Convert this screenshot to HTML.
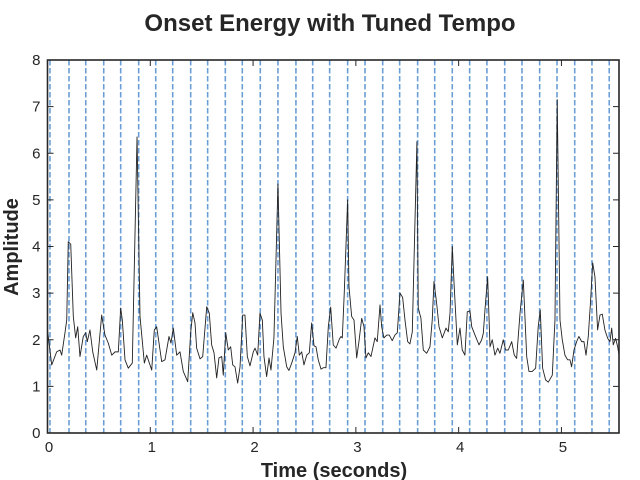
<!DOCTYPE html>
<html><head><meta charset="utf-8"><style>
body{margin:0;background:#fff;}
svg{display:block;font-family:"Liberation Sans",Arial,sans-serif;}
</style></head><body>
<svg id="chart" width="640" height="480">
<text x="330" y="31" text-anchor="middle" font-size="24" font-weight="bold" fill="#262626">Onset Energy with Tuned Tempo</text>
<text x="334" y="477" text-anchor="middle" font-size="20" font-weight="bold" fill="#262626">Time (seconds)</text>
<text transform="translate(18,247) rotate(-90)" text-anchor="middle" font-size="20" font-weight="bold" fill="#262626">Amplitude</text>
<g id="beats"></g>
<g id="series"></g>
<g id="axes"></g>
</svg>
<script>
const xTicks=[0,1,2,3,4,5];
const yTicks=[0,1,2,3,4,5,6,7,8];
const beatTimes=[0.024,0.209,0.372,0.547,0.712,0.887,1.053,1.218,1.393,1.558,1.730,1.895,2.070,2.242,2.417,2.580,2.745,2.920,3.089,3.261,3.426,3.601,3.767,3.938,4.107,4.275,4.448,4.616,4.788,4.957,5.129,5.297,5.465];
const times=[0.002,0.041,0.089,0.122,0.138,0.170,0.187,0.202,0.226,0.251,0.274,0.294,0.316,0.348,0.372,0.387,0.413,0.440,0.479,0.527,0.559,0.591,0.625,0.657,0.689,0.712,0.728,0.754,0.786,0.825,0.871,0.900,0.942,0.965,1.014,1.039,1.062,1.111,1.143,1.182,1.201,1.224,1.257,1.289,1.321,1.364,1.393,1.413,1.435,1.451,1.484,1.510,1.549,1.574,1.597,1.620,1.646,1.668,1.695,1.710,1.734,1.759,1.782,1.802,1.824,1.850,1.873,1.899,1.921,1.944,1.970,2.002,2.019,2.045,2.067,2.090,2.106,2.132,2.155,2.174,2.203,2.242,2.272,2.294,2.327,2.349,2.376,2.408,2.430,2.450,2.473,2.495,2.522,2.547,2.570,2.593,2.612,2.634,2.661,2.683,2.709,2.732,2.755,2.780,2.807,2.839,2.855,2.868,2.887,2.920,2.933,2.959,2.982,3.008,3.030,3.057,3.079,3.098,3.121,3.147,3.186,3.208,3.235,3.251,3.273,3.300,3.325,3.354,3.380,3.403,3.429,3.455,3.478,3.504,3.526,3.549,3.594,3.607,3.633,3.656,3.689,3.721,3.743,3.760,3.786,3.809,3.841,3.877,3.899,3.916,3.938,3.957,3.987,4.013,4.035,4.061,4.084,4.110,4.127,4.159,4.198,4.224,4.240,4.256,4.282,4.305,4.327,4.353,4.380,4.402,4.434,4.457,4.483,4.516,4.541,4.564,4.597,4.629,4.662,4.684,4.716,4.749,4.774,4.794,4.817,4.846,4.872,4.911,4.937,4.959,4.986,5.008,5.034,5.060,5.083,5.099,5.122,5.148,5.170,5.197,5.219,5.239,5.261,5.284,5.304,5.326,5.352,5.375,5.397,5.423,5.450,5.472,5.489,5.504,5.527,5.547,5.560];
const amplitudes=[2.17,1.46,1.74,1.78,1.67,2.15,2.42,4.10,4.05,2.50,2.04,2.28,1.64,2.07,2.15,1.96,2.21,1.74,1.35,2.53,2.10,1.93,1.67,1.74,1.74,2.68,2.42,1.57,1.39,1.50,6.35,2.50,1.50,1.67,1.35,2.21,2.28,1.53,1.57,2.07,1.93,2.25,1.67,1.74,1.32,1.10,2.15,2.58,2.36,1.82,1.59,1.64,2.71,2.57,1.89,1.72,1.18,1.61,1.64,1.24,2.15,1.78,1.85,1.46,1.42,1.07,1.42,2.53,2.53,1.64,1.44,1.74,1.82,1.67,2.57,2.42,1.64,1.21,1.61,1.35,2.04,5.34,2.57,1.85,1.42,1.34,1.50,1.72,2.07,1.67,1.74,1.46,1.67,1.72,2.36,1.87,1.85,1.57,1.37,1.40,1.40,2.28,2.70,1.89,1.82,2.01,2.07,2.04,3.00,5.00,3.14,2.50,2.42,1.61,1.96,2.46,2.28,1.61,1.72,1.64,2.04,1.96,2.75,2.28,2.04,2.10,2.10,1.98,2.10,2.15,3.00,2.91,2.42,1.96,1.91,2.17,6.25,2.68,2.46,1.78,1.71,1.85,2.42,3.25,2.78,2.28,2.04,2.25,2.17,2.57,4.00,3.14,1.89,2.25,1.78,1.67,2.60,2.62,2.28,2.10,1.89,2.00,2.14,2.64,3.35,1.85,2.00,1.67,1.82,1.71,2.00,1.78,1.78,1.96,1.67,1.60,2.57,3.28,1.64,1.32,1.32,1.39,2.28,2.64,1.39,1.14,1.09,1.24,2.42,7.15,2.42,2.00,1.67,1.57,1.57,1.42,1.78,1.96,2.07,1.96,1.96,1.67,2.07,2.85,3.65,3.35,2.21,2.53,2.55,2.21,2.03,1.96,2.25,1.89,2.03,1.85,1.67];

const X0=47.5,X1=619,Y0=433,Y1=60,TMAX=5.56,AMAX=8;
const xs=t=>X0+(t/TMAX)*(X1-X0);
const ys=a=>Y0-(a/AMAX)*(Y0-Y1);
const NS='http://www.w3.org/2000/svg';
function mk(tag,attrs,parent){const e=document.createElementNS(NS,tag);for(const k in attrs)e.setAttribute(k,attrs[k]);parent.appendChild(e);return e;}

const gb=document.getElementById('beats');
beatTimes.forEach(t=>{
  const l=mk('line',{x1:xs(t),x2:xs(t),y1:Y1,y2:Y0,stroke:'#6b9ed6','stroke-width':1.6,'stroke-dasharray':'5.5,2.5'},gb);
  
  
});

const gs=document.getElementById('series');
const pts=times.map((t,i)=>xs(t).toFixed(2)+','+ys(amplitudes[i]).toFixed(2)).join(' ');
const pl=mk('polyline',{points:pts,fill:'none',stroke:'#222','stroke-width':0.9,'stroke-linejoin':'round'},gs);



const ga=document.getElementById('axes');
const fr=mk('rect',{x:X0,y:Y1,width:X1-X0,height:Y0-Y1,fill:'none',stroke:'#262626','stroke-width':1.6},ga);


xTicks.forEach(v=>{
  const x=xs(v);
  mk('line',{x1:x,x2:x,y1:Y0,y2:Y0-6,stroke:'#262626','stroke-width':1},ga);
  mk('line',{x1:x,x2:x,y1:Y1,y2:Y1+6,stroke:'#262626','stroke-width':1},ga);
  const tx=mk('text',{x:x+1.5,y:Y0+19,'text-anchor':'middle','font-size':15,fill:'#262626'},ga);
  tx.textContent=v;
  
  
});
yTicks.forEach(v=>{
  const y=ys(v);
  mk('line',{x1:X0,x2:X0+6,y1:y,y2:y,stroke:'#262626','stroke-width':1},ga);
  mk('line',{x1:X1,x2:X1-6,y1:y,y2:y,stroke:'#262626','stroke-width':1},ga);
  const tx=mk('text',{x:X0-7,y:y+5,'text-anchor':'end','font-size':15,fill:'#262626'},ga);
  tx.textContent=v;
  
  
});
</script>
</body></html>
